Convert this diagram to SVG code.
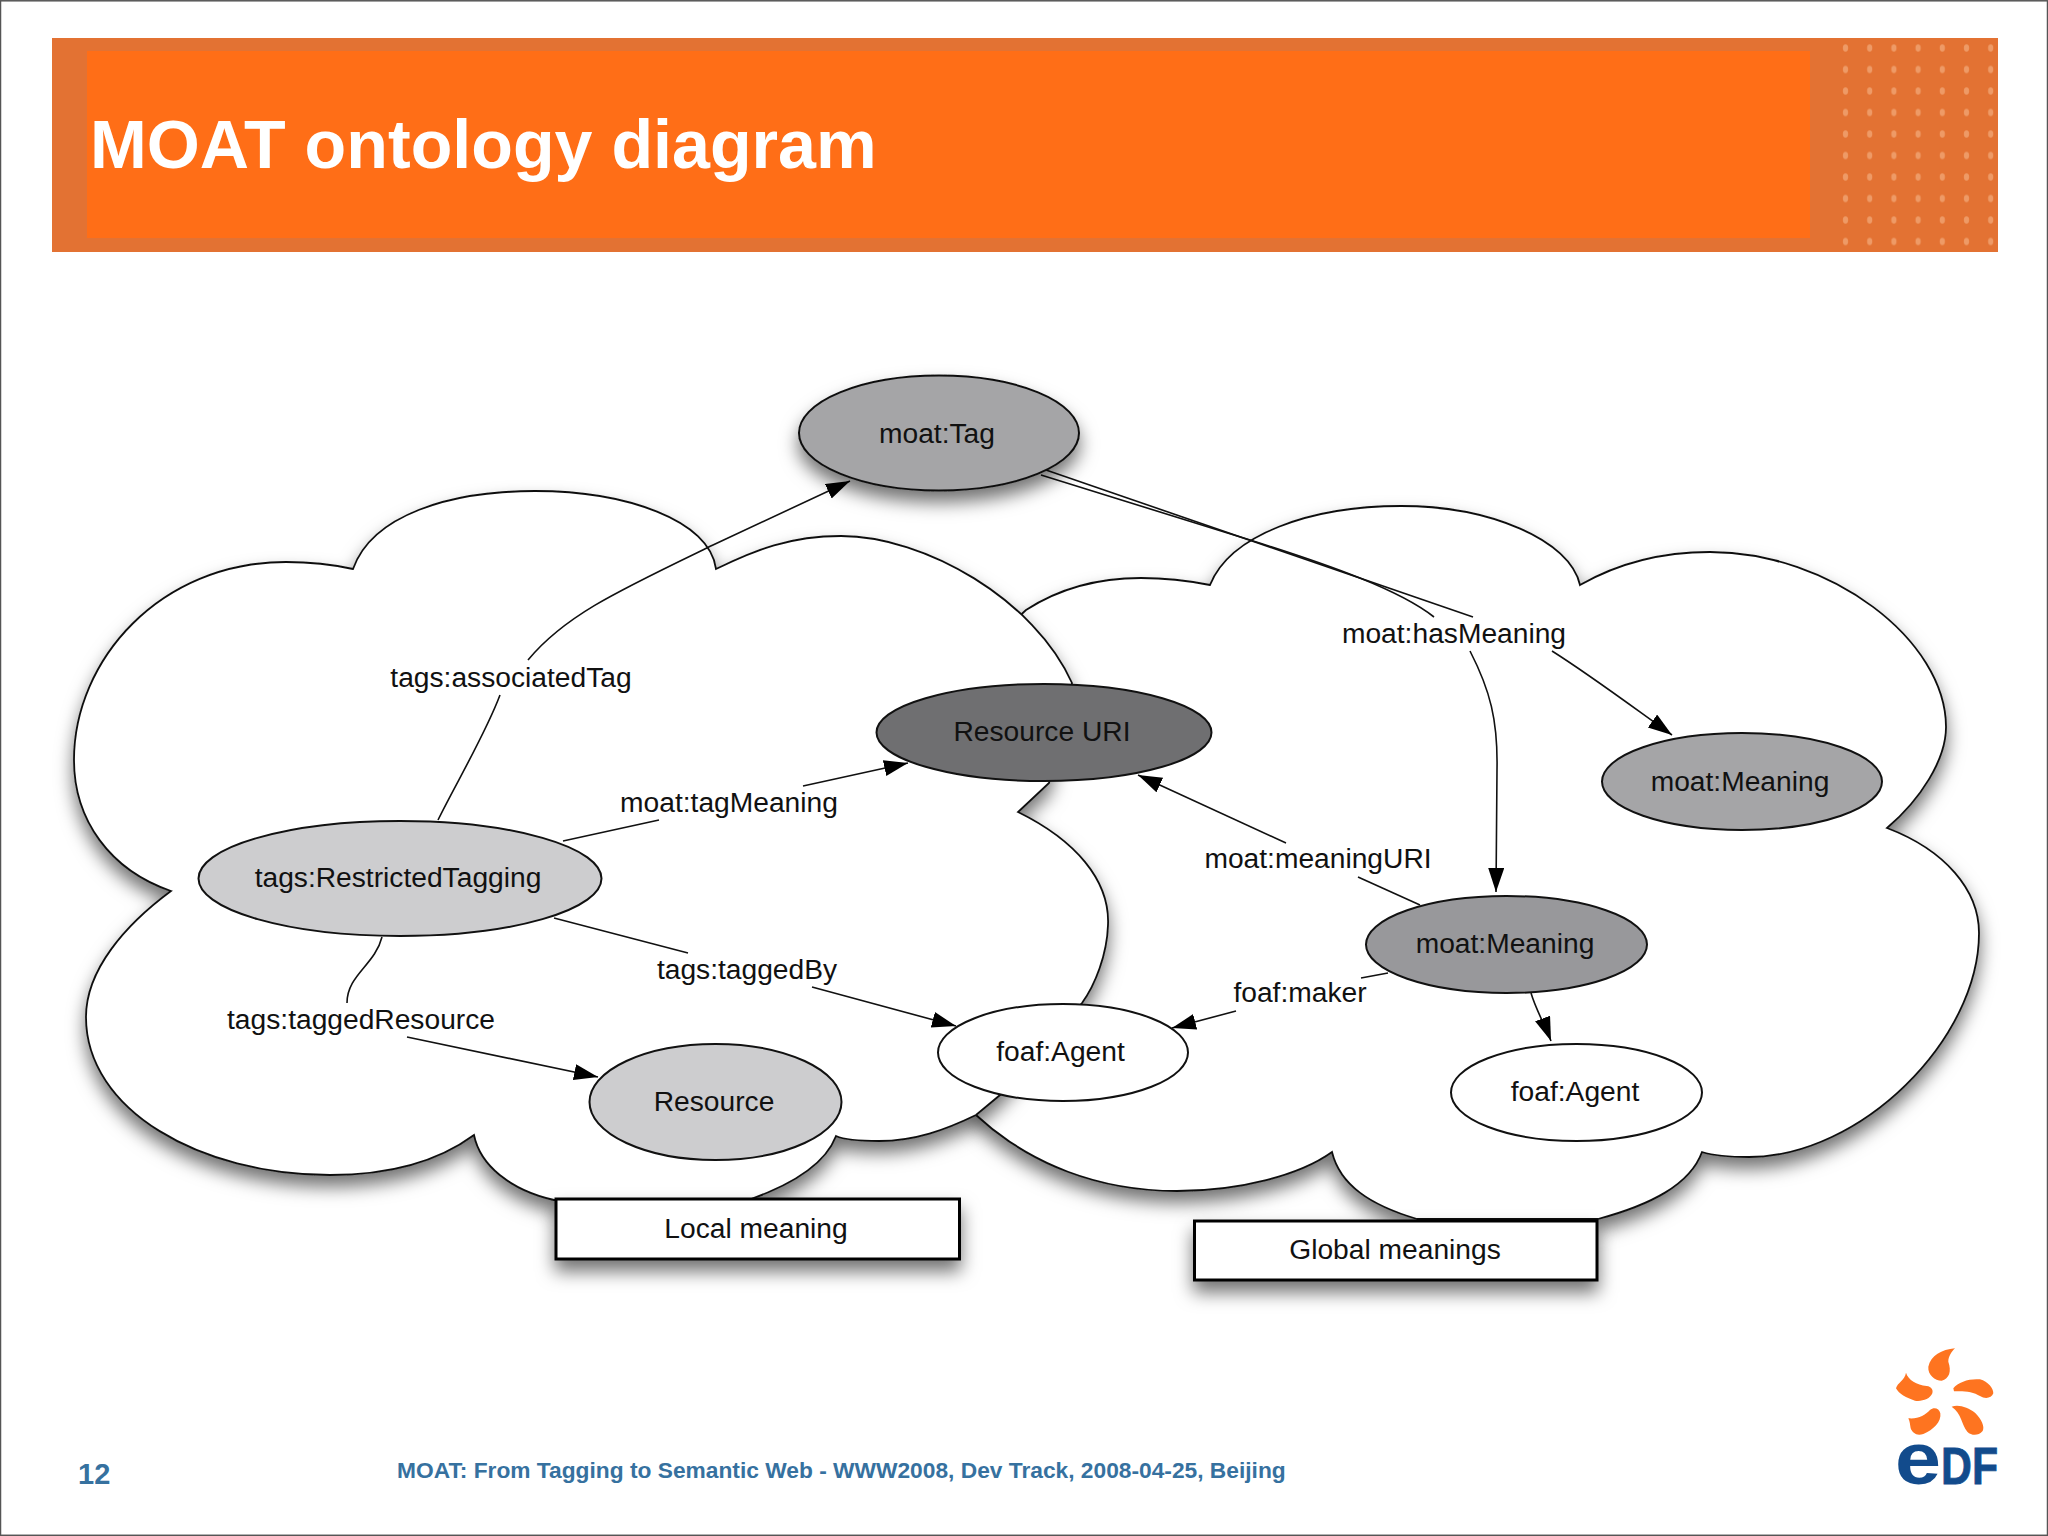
<svg xmlns="http://www.w3.org/2000/svg" width="2048" height="1536" viewBox="0 0 2048 1536">
<style>
.lab{font-family:"Liberation Sans",Arial,sans-serif;font-size:28.2px;fill:#111;text-anchor:middle}
.cloud{fill:#fff;stroke:#111;stroke-width:1.8;filter:url(#shadow)}
.el{stroke:#111;stroke-width:2}
.ln{fill:none;stroke:#111;stroke-width:1.6}
.arr{marker-end:url(#arrow)}
.box{fill:#fff;stroke:#000;stroke-width:3;filter:url(#shadowbox)}
.petal{fill:#fe7420}
.foot{font-family:"Liberation Sans",Arial,sans-serif;font-weight:bold;fill:#36719f}
</style>
<defs>
<filter id="shadow" x="-10%" y="-10%" width="120%" height="125%"><feDropShadow dx="0" dy="11" stdDeviation="9" flood-color="#000" flood-opacity="0.55"/></filter>
<filter id="shadowbox" x="-15%" y="-60%" width="130%" height="240%"><feDropShadow dx="0" dy="11" stdDeviation="9" flood-color="#000" flood-opacity="0.55"/></filter>
<marker id="arrow" markerUnits="userSpaceOnUse" markerWidth="26" markerHeight="18" refX="24" refY="8" orient="auto"><path d="M0,0 L24,8 L0,16 Z" fill="#000"/></marker>
<pattern id="dots" patternUnits="userSpaceOnUse" x="1833.4" y="37.25" width="24.2" height="21.5"><ellipse cx="12.1" cy="10.75" rx="2.6" ry="3.6" fill="#ee9a66"/></pattern>
</defs>
<rect x="0" y="0" width="2048" height="1536" fill="#fff"/>
<rect x="0.5" y="0.8" width="2047" height="1534.5" fill="none" stroke="#555" stroke-width="1.5"/>
<g id="banner">
<rect x="52" y="38" width="1946" height="214" fill="#e37233"/>
<rect x="1835" y="38" width="163" height="214" fill="url(#dots)"/>
<rect x="87" y="51" width="1723" height="187" fill="#ff6e17"/>
<text x="90" y="168" font-family="'Liberation Sans',Arial,sans-serif" font-weight="bold" font-size="68.2" fill="#fff">MOAT ontology diagram</text>
</g>
<g id="cloud-global">
<path class="cloud" d="M1010,625 L1026,610 C1060,588 1100,578 1141,578 C1165,578 1190,581 1210,585 C1230,535 1310,506 1401,506 C1490,506 1570,540 1580,585 C1615,565 1660,552 1710,552 C1830,552 1946,640 1946,727 C1946,760 1920,800 1887,828 C1945,850 1979,890 1979,933 C1979,1040 1860,1157 1749,1157 C1732,1157 1715,1156 1702,1152 C1690,1185 1650,1205 1598,1219 L1417,1219 C1370,1205 1340,1185 1332,1152 C1300,1175 1240,1191 1177,1191 C1100,1191 1030,1165 976,1115 Z"/>
</g>
<g id="cloud-local">
<path class="cloud" d="M353,569 C372,515 450,491 535,491 C625,491 710,520 716,569 C755,550 790,536 841,536 C925,536 1035,600 1072,683 L1049,783 L1018,812 C1075,840 1110,880 1108,925 C1107,955 1095,985 1082,1003 L1000,1095 L976,1115 C945,1130 915,1141 879,1141 C860,1141 845,1140 836,1136 C825,1165 790,1185 751,1199 L554,1200 C510,1190 480,1165 474,1135 C440,1160 395,1175 330,1175 C200,1175 86,1110 86,1017 C86,970 125,925 171,891 C110,870 74,820 74,760 C74,660 160,562 286,562 C310,562 335,565 353,569 Z"/>
</g>
<g id="connectors">
<path class="ln" d="M438,820 C455,785 485,735 500,695"/>
<path class="ln arr" d="M528,660 C565,615 620,590 713,545 L850,481"/>
<path class="ln" d="M563,841 L659,820"/>
<path class="ln arr" d="M803,786 L908,763"/>
<path class="ln" d="M554,918 L688,953"/>
<path class="ln arr" d="M812,987 L956,1026"/>
<path class="ln" d="M382,937 C375,965 347,975 347,1003"/>
<path class="ln arr" d="M407,1037 L598,1077"/>
<path class="ln" d="M1046,470 L1473,617"/>
<path class="ln" d="M1041,475 L1250,540 C1330,565 1400,590 1434,617"/>
<path class="ln arr" d="M1552,651 C1590,675 1630,705 1672,735"/>
<path class="ln arr" d="M1470,651 C1490,690 1498,720 1497,770 L1496,892"/>
<path class="ln" d="M1420,905 L1358,877"/>
<path class="ln arr" d="M1286,843 L1138,775"/>
<path class="ln" d="M1388,973 L1361,978"/>
<path class="ln arr" d="M1236,1011 L1172,1028"/>
<path class="ln arr" d="M1531,993 C1536,1010 1545,1025 1551,1041"/>
</g>
<g id="node-moat-tag">
<ellipse class="el" cx="939" cy="433" rx="140" ry="57.5" fill="#a5a5a7" filter="url(#shadowbox)"/>
<text class="lab" x="937" y="443">moat:Tag</text>
</g>
<g id="node-resource-uri">
<ellipse class="el" cx="1044" cy="732.5" rx="167.5" ry="48.5" fill="#6f6f71"/>
<text class="lab" x="1042" y="741">Resource URI</text>
</g>
<g id="node-meaning-top">
<ellipse class="el" cx="1742" cy="781.5" rx="140" ry="48.5" fill="#a5a5a7"/>
<text class="lab" x="1740" y="791">moat:Meaning</text>
</g>
<g id="node-restricted-tagging">
<ellipse class="el" cx="400" cy="878.5" rx="201.5" ry="57.5" fill="#cdcdcf"/>
<text class="lab" x="398" y="887">tags:RestrictedTagging</text>
</g>
<g id="node-resource">
<ellipse class="el" cx="715.5" cy="1102" rx="126" ry="58" fill="#cdcdcf"/>
<text class="lab" x="714" y="1111">Resource</text>
</g>
<g id="node-agent-left">
<ellipse class="el" cx="1063" cy="1052.5" rx="125" ry="48.5" fill="#fff"/>
<text class="lab" x="1060.5" y="1061">foaf:Agent</text>
</g>
<g id="node-meaning-mid">
<ellipse class="el" cx="1506.5" cy="944.5" rx="140.5" ry="48.5" fill="#98989b"/>
<text class="lab" x="1505" y="953">moat:Meaning</text>
</g>
<g id="node-agent-right">
<ellipse class="el" cx="1576.5" cy="1092.5" rx="125.5" ry="48.5" fill="#fff"/>
<text class="lab" x="1575" y="1101">foaf:Agent</text>
</g>
<g id="node-local-meaning">
<rect class="box" x="556" y="1199" width="403.5" height="60"/>
<text class="lab" x="756" y="1238">Local meaning</text>
</g>
<g id="node-global-meanings">
<rect class="box" x="1194.5" y="1221" width="402.5" height="59"/>
<text class="lab" x="1395" y="1259">Global meanings</text>
</g>
<g id="edge-labels">
<text class="lab" x="511" y="687">tags:associatedTag</text>
<text class="lab" x="729" y="812">moat:tagMeaning</text>
<text class="lab" x="1454" y="643">moat:hasMeaning</text>
<text class="lab" x="747" y="979">tags:taggedBy</text>
<text class="lab" x="361" y="1029">tags:taggedResource</text>
<text class="lab" x="1318" y="868">moat:meaningURI</text>
<text class="lab" x="1300" y="1002">foaf:maker</text>
</g>
<g id="footer">
<text class="foot" x="78" y="1484" font-size="29">12</text>
<text class="foot" x="397" y="1478" font-size="22.75">MOAT: From Tagging to Semantic Web - WWW2008, Dev Track, 2008-04-25, Beijing</text>
</g>
<g id="logo">
<g transform="translate(1860,1330) scale(0.3333)">
<path class="petal" d="M285,55 C245,58 212,78 205,110 C203,135 225,152 245,152 C268,145 275,125 265,95 C265,80 275,65 285,55 Z"/>
<path class="petal" d="M138,128 C145,150 170,165 200,168 C215,170 220,180 217,190 C210,208 185,215 165,212 C140,205 115,190 108,175 C112,158 135,150 138,128 Z"/>
<path class="petal" d="M280,175 C295,155 330,145 360,148 C385,155 400,175 400,190 C395,205 375,208 360,198 C340,185 310,182 282,184 Z"/>
<path class="petal" d="M145,265 C175,268 195,255 210,240 C222,230 238,235 241,250 C245,275 220,300 190,312 C170,318 158,310 152,295 C150,285 150,275 145,265 Z"/>
<path class="petal" d="M275,230 C295,222 325,232 345,248 C365,268 375,290 368,303 C355,318 335,318 322,305 C305,285 305,250 275,230 Z"/>
</g>
<text x="1895" y="1484" font-family="'Liberation Sans',Arial,sans-serif" font-weight="bold" font-size="74" fill="#124b8c" textLength="46" lengthAdjust="spacingAndGlyphs">e</text>
<text x="1941" y="1484" font-family="'Liberation Sans',Arial,sans-serif" font-weight="bold" font-size="52" fill="#124b8c" stroke="#124b8c" stroke-width="0.8" textLength="57" lengthAdjust="spacingAndGlyphs">DF</text>
</g>
</svg>
